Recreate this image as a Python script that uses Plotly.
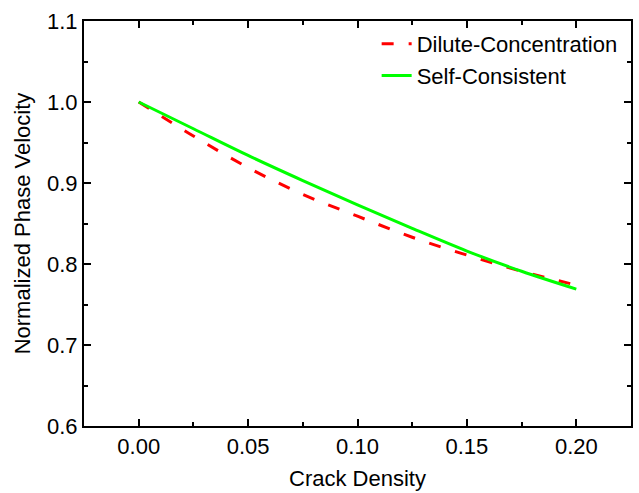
import plotly.graph_objects as go

crack_density = [0.0, 0.025, 0.05, 0.075, 0.10, 0.125, 0.15, 0.175, 0.20]
dilute_concentration = [1.0, 0.958, 0.919, 0.886, 0.859, 0.833, 0.811, 0.791, 0.774]
self_consistent = [1.0, 0.967, 0.934, 0.903, 0.873, 0.844, 0.816, 0.791, 0.769]

FONT = "Arial, Liberation Sans, sans-serif"
FS = 22

fig = go.Figure()
fig.add_trace(go.Scatter(
    x=crack_density, y=dilute_concentration, mode="lines",
    name="Dilute-Concentration", line_shape="spline",
    line=dict(color="#ff0000", width=3, dash="12px,15px"),
))
fig.add_trace(go.Scatter(
    x=crack_density, y=self_consistent, mode="lines",
    name="Self-Consistent", line_shape="spline",
    line=dict(color="#00ff00", width=3),
))

axis_common = dict(
    showline=True, linecolor="black", linewidth=2, mirror="ticks",
    ticks="inside", ticklen=7, tickwidth=1.5, tickcolor="black",
    showgrid=False, zeroline=False,
    tickfont=dict(family=FONT, size=FS, color="black"),
)

fig.update_xaxes(
    range=[-0.025, 0.225], dtick=0.05, tick0=0, tickformat=".2f",
    minor=dict(dtick=0.025, tick0=0, ticks="inside", ticklen=4, tickwidth=1.5, tickcolor="black"),
    title=dict(text="Crack Density", font=dict(family=FONT, size=FS, color="black"), standoff=12),
    **axis_common,
)
fig.update_yaxes(
    range=[0.6, 1.1], dtick=0.1, tick0=0.6, tickformat=".1f",
    minor=dict(dtick=0.05, tick0=0.6, ticks="inside", ticklen=4, tickwidth=1.5, tickcolor="black"),
    title=dict(text="Normalized Phase Velocity", font=dict(family=FONT, size=FS, color="black"), standoff=10),
    **axis_common,
)

fig.update_layout(
    width=639, height=493,
    margin=dict(l=84, r=6, t=21, b=67),
    paper_bgcolor="white", plot_bgcolor="white",
    font=dict(family=FONT, size=FS, color="black"),
    showlegend=True,
    legend=dict(
        x=0.535, y=0.995, xanchor="left", yanchor="top",
        bgcolor="rgba(0,0,0,0)", borderwidth=0,
        font=dict(family=FONT, size=FS, color="black"),
        tracegroupgap=0, itemwidth=30,
    ),
)

fig.write_html("out.html")
